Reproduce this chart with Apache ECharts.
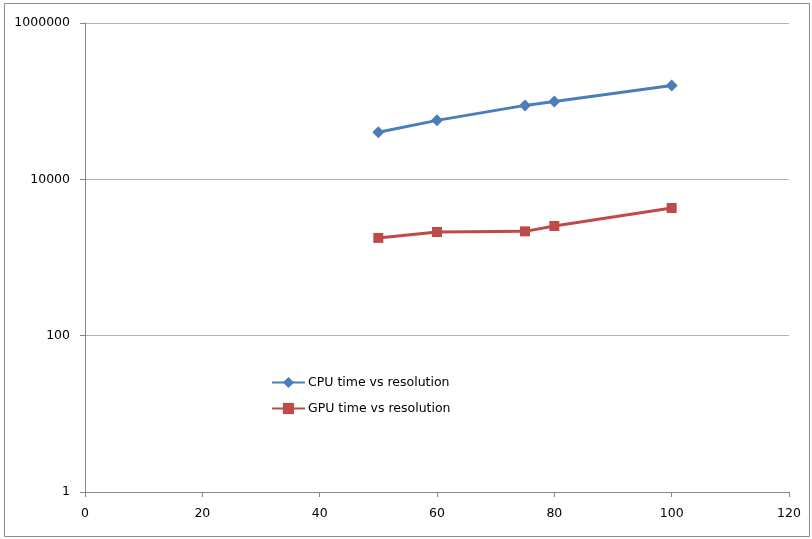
<!DOCTYPE html>
<html>
<head>
<meta charset="utf-8">
<script src="https://cdn.jsdelivr.net/npm/echarts@6/dist/echarts.min.js"></script>
<style>
  html, body { margin: 0; padding: 0; background: #fff; }
  #chart { width: 812px; height: 539px; }
</style>
</head>
<body>
<div id="chart"></div>
<script>
// Resolution (x) and timings (y, log scale)
const resolution = [50, 60, 75, 80, 100];
const cpuTime = [40000, 56800, 88300, 99300, 159000];
const gpuTime = [1780, 2120, 2160, 2530, 4300];
const xTicks = { min: 0, max: 120, interval: 20 };
const yTicks = { min: 1, max: 1000000 };
const seriesNames = ['CPU time vs resolution', 'GPU time vs resolution'];

const pairs = (xs, ys) => xs.map((x, i) => [x, ys[i]]);

const chart = echarts.init(document.getElementById('chart'));
const fontFamily = '"DejaVu Sans", Verdana, sans-serif';

chart.setOption({
  animation: false,
  backgroundColor: '#ffffff',
  graphic: [{
    type: 'rect',
    shape: { x: 4.5, y: 3.5, width: 805, height: 533 },
    style: { fill: null, stroke: '#8c8c8c', lineWidth: 1 },
    silent: true
  }],
  grid: { left: 85, right: 23, top: 23, bottom: 47, containLabel: false },
  legend: {
    orient: 'vertical',
    left: 271,
    top: 376,
    padding: 0,
    itemWidth: 33,
    itemHeight: 14,
    itemGap: 13,
    textStyle: { fontFamily, fontSize: 12.5, color: '#000', padding: [0, 0, 0, -2] },
    data: seriesNames
  },
  xAxis: {
    type: 'value',
    min: xTicks.min,
    max: xTicks.max,
    interval: xTicks.interval,
    axisLine: { show: true, lineStyle: { color: '#868686', width: 1 } },
    axisTick: { show: true, inside: false, length: 5, lineStyle: { color: '#868686' } },
    axisLabel: { margin: 15, fontFamily, fontSize: 12.5, color: '#000' },
    splitLine: { show: false }
  },
  yAxis: {
    type: 'log',
    logBase: 10,
    min: yTicks.min,
    max: yTicks.max,
    interval: 2,
    axisLine: { show: true, lineStyle: { color: '#868686', width: 1 } },
    axisTick: { show: true, inside: false, length: 5, lineStyle: { color: '#868686' } },
    axisLabel: {
      margin: 15, fontFamily, fontSize: 12.5, color: '#000',
      formatter: v => String(Math.round(v))
    },
    splitLine: { show: true, lineStyle: { color: '#b3b3b3', width: 1 } },
    minorTick: { show: false }
  },
  series: [
    {
      name: seriesNames[0],
      type: 'line',
      data: pairs(resolution, cpuTime),
      symbol: 'diamond',
      symbolSize: 12,
      showAllSymbol: true,
      lineStyle: { color: '#4a7ebb', width: 3 },
      itemStyle: { color: '#4a7ebb' }
    },
    {
      name: seriesNames[1],
      type: 'line',
      data: pairs(resolution, gpuTime),
      symbol: 'rect',
      symbolSize: 10,
      showAllSymbol: true,
      lineStyle: { color: '#be4b48', width: 3 },
      itemStyle: { color: '#be4b48' }
    }
  ]
});
</script>
</body>
</html>
